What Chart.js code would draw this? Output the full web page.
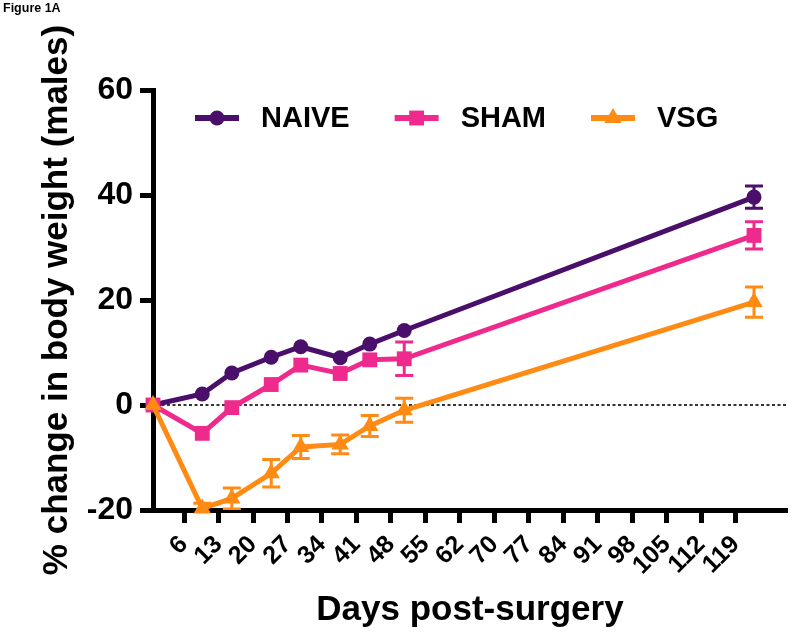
<!DOCTYPE html>
<html>
<head>
<meta charset="utf-8">
<script src="https://cdn.jsdelivr.net/npm/chart.js@4/dist/chart.umd.min.js"></script>
<style>
  html, body { margin: 0; padding: 0; background: #fff; }
</style>
</head>
<body>
<canvas id="chart" width="800" height="644"></canvas>
<script>
// Data; 0 error = bar hidden behind the marker
const days     = [0, 10, 16, 24, 30, 38, 44, 51, 122];
const naive    = [0, 2.1, 6.1, 9.1, 11.1, 9.0, 11.6, 14.2, 39.6];
const naiveErr = [0, 0, 0, 0, 0, 0, 0, 0, 2.1];
const sham     = [0, -5.4, -0.5, 3.9, 7.6, 6.0, 8.6, 8.8, 32.3];
const shamErr  = [0, 0, 0, 0, 0, 0, 0, 3.2, 2.6];
const vsg      = [0, -19.7, -17.8, -13.0, -8.0, -7.5, -4.0, -1.0, 19.6];
const vsgErr   = [0, 1.0, 2.0, 2.6, 2.2, 1.8, 2.0, 2.3, 2.9];
const xTickLabels = ["6","13","20","27","34","41","48","55","62","70","77","84","91","98","105","112","119"];

const FONT = '"Liberation Sans", Arial, sans-serif';
const pts = arr => days.map((d, i) => ({ x: d, y: arr[i] }));

function marker(ctx, style, x, y, r) {
  ctx.beginPath();
  if (style === 'circle') ctx.arc(x, y, r, 0, Math.PI * 2);
  else if (style === 'rect') { const s = r * Math.SQRT1_2; ctx.rect(x - s, y - s, 2 * s, 2 * s); }
  else {
    for (let k = 0; k < 3; k++) {
      const a = k * 2 * Math.PI / 3;
      ctx[k ? 'lineTo' : 'moveTo'](x + Math.sin(a) * r, y - Math.cos(a) * r);
    }
    ctx.closePath();
  }
  ctx.fill();
}

// dotted zero line + error bars, drawn under the markers
const zeroAndErrors = {
  id: 'zeroAndErrors',
  beforeDatasetsDraw(chart) {
    const { ctx, chartArea: ca, scales: { y } } = chart;
    const y0 = y.getPixelForValue(0);
    ctx.save();
    ctx.strokeStyle = '#333';
    ctx.lineWidth = 2;
    ctx.setLineDash([3, 2.5]);
    ctx.beginPath(); ctx.moveTo(ca.left + 3, y0); ctx.lineTo(ca.right, y0); ctx.stroke();
    ctx.setLineDash([]);
    ctx.beginPath(); ctx.rect(ca.left, ca.top - 20, ca.right - ca.left, ca.bottom - ca.top + 20); ctx.clip();
    chart.data.datasets.forEach((ds, i) => {
      const meta = chart.getDatasetMeta(i);
      ctx.strokeStyle = ds.borderColor;
      ctx.lineWidth = 3;
      meta.data.forEach((pt, j) => {
        const e = ds.errors[j];
        if (!e) return;
        const v = ds.data[j].y;
        const t = y.getPixelForValue(v + e), b = y.getPixelForValue(v - e);
        ctx.beginPath();
        ctx.moveTo(pt.x, t); ctx.lineTo(pt.x, b);
        ctx.moveTo(pt.x - 9, t); ctx.lineTo(pt.x + 9, t);
        ctx.moveTo(pt.x - 9, b); ctx.lineTo(pt.x + 9, b);
        ctx.stroke();
      });
    });
    ctx.restore();
  }
};

// legend with line + marker, placed inside the plot
const lineLegend = {
  id: 'lineLegend',
  afterDraw(chart, args, o) {
    const ctx = chart.ctx;
    let x = o.x;
    ctx.save();
    ctx.font = `bold ${o.size}px ${FONT}`;
    ctx.textBaseline = 'middle';
    chart.data.datasets.forEach(ds => {
      ctx.strokeStyle = ds.borderColor;
      ctx.fillStyle = ds.borderColor;
      ctx.lineWidth = 6;
      ctx.beginPath(); ctx.moveTo(x, o.y); ctx.lineTo(x + o.lineLen, o.y); ctx.stroke();
      marker(ctx, ds.pointStyle, x + o.lineLen / 2, o.y, ds.pointRadius);
      x += o.lineLen + o.gap;
      ctx.fillStyle = '#000';
      ctx.fillText(ds.label, x, o.y + 1);
      x += ctx.measureText(ds.label).width + o.spacing;
    });
    ctx.restore();
  }
};

const axisGrid = { drawOnChartArea: false, drawTicks: true, tickLength: 13, tickWidth: 5, tickColor: '#000', color: '#000' };
const axisBorder = { display: true, width: 5, color: '#000' };

new Chart(document.getElementById('chart'), {
  type: 'line',
  data: {
    datasets: [
      { label: 'NAIVE', data: pts(naive), errors: naiveErr, borderColor: '#4A0F6B', backgroundColor: '#4A0F6B',
        pointStyle: 'circle', pointRadius: 7.5, order: 2 },
      { label: 'SHAM', data: pts(sham), errors: shamErr, borderColor: '#EE2A8C', backgroundColor: '#EE2A8C',
        pointStyle: 'rect', pointRadius: 10.5, order: 1 },
      { label: 'VSG', data: pts(vsg), errors: vsgErr, borderColor: '#FF8A14', backgroundColor: '#FF8A14',
        pointStyle: 'triangle', pointRadius: 10, order: 0 }
    ]
  },
  options: {
    responsive: false,
    animation: false,
    devicePixelRatio: 1,
    layout: { padding: { top: 0, left: 3, right: 13, bottom: 0 } },
    datasets: { line: { borderWidth: 5, tension: 0, clip: false, pointBorderWidth: 0, pointHoverRadius: 8 } },
    scales: {
      x: {
        type: 'linear', min: 0, max: 128.7,
        afterBuildTicks: s => { s.ticks = xTickLabels.map((_, i) => ({ value: 6.3 + 7 * i })); },
        afterFit: s => { s.height = 134; },
        ticks: { autoSkip: false, minRotation: 45, maxRotation: 45, padding: 7, color: '#000',
                 font: { family: FONT, size: 25, weight: 'bold' }, callback: (v, i) => xTickLabels[i] },
        grid: axisGrid, border: axisBorder,
        title: { display: true, text: 'Days post-surgery', color: '#000',
                 font: { family: FONT, size: 35, weight: 'bold' }, padding: { top: 0, bottom: 13 } }
      },
      y: {
        min: -20, max: 60,
        afterFit: s => { s.width = 150; },
        ticks: { stepSize: 20, padding: 7, color: '#000', font: { family: FONT, size: 32, weight: 'bold' } },
        grid: axisGrid, border: axisBorder,
        title: { display: true, text: '% change in body weight (males)', color: '#000',
                 font: { family: FONT, size: 35, weight: 'bold' }, padding: { top: 33, bottom: 0 } }
      }
    },
    plugins: {
      legend: { display: false },
      tooltip: { enabled: false },
      title: { display: true, text: 'Figure 1A', align: 'start', color: '#000',
               font: { family: FONT, size: 12.5, weight: 'bold' }, padding: { top: 1, bottom: 74 } },
      lineLegend: { x: 195, y: 118, size: 29, lineLen: 44, gap: 22, spacing: 45 }
    }
  },
  plugins: [zeroAndErrors, lineLegend]
});
</script>
</body>
</html>
